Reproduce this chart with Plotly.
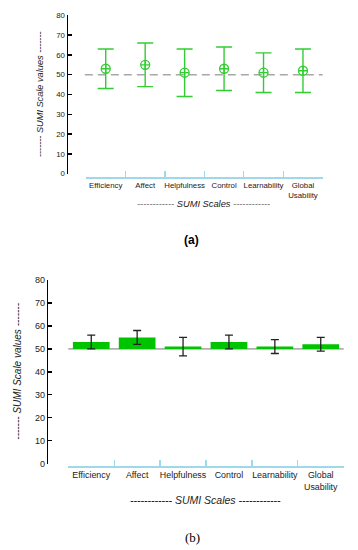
import plotly.graph_objects as go

W, H = 358, 550

categories = ["Efficiency", "Affect", "Helpfulness", "Control", "Learnability", "Global Usability"]
tick_labels = ["Efficiency", "Affect", "Helpfulness", "Control", "Learnability", "Global<br>Usability"]
means = [53, 55, 51, 53, 51, 52]
ci_a = [10, 11, 12, 11, 10, 11]      # panel (a) error bars
se_b = [3, 3, 4, 3, 3, 3]            # panel (b) error bars
reference_value = 50
y_ticks = [0, 10, 20, 30, 40, 50, 60, 70, 80]

GREEN_A = "#33cc33"
GREEN_B = "#00c400"
BLUE = "#9fd8ea"
FONT = "Liberation Sans"

def px_x(p):
    return p / W

def px_y(p):
    return 1 - p / H

fig = go.Figure()

# ---- panel (a)
fig.add_trace(go.Scatter(
    x=categories, y=means, mode="markers",
    marker=dict(symbol="circle-cross-open", size=9, color=GREEN_A, line=dict(width=1.3, color=GREEN_A)),
    error_y=dict(type="data", array=ci_a, visible=True, color=GREEN_A, thickness=1.4, width=8),
    xaxis="x", yaxis="y", showlegend=False, cliponaxis=False,
))

# ---- panel (b)
fig.add_trace(go.Bar(
    x=categories, y=[m - reference_value for m in means], base=reference_value,
    marker=dict(color=GREEN_B, line=dict(width=0)), width=0.8,
    xaxis="x2", yaxis="y2", showlegend=False,
))
fig.add_trace(go.Scatter(
    x=categories, y=means, mode="markers", marker=dict(size=1, color="rgba(0,0,0,0)"),
    error_y=dict(type="data", array=se_b, visible=True, color="#222222", thickness=1.3, width=4),
    xaxis="x2", yaxis="y2", showlegend=False, hoverinfo="skip",
))

# reference lines at 50
fig.add_shape(type="line", xref="x domain", yref="y", x0=-0.005, x1=1.0, y0=reference_value, y1=reference_value,
              line=dict(color="#a8a8a8", width=1.6, dash="8px,5px"), layer="below")
fig.add_shape(type="line", xref="x2 domain", yref="y2", x0=0, x1=1, y0=reference_value, y1=reference_value,
              line=dict(color="#b0b0b0", width=1.6), layer="below")

def yax(domain, pos, size):
    return dict(range=[0, 80], domain=domain, anchor="free", position=pos,
                tickvals=y_ticks, ticks="inside", ticklen=4, tickwidth=1.3, tickcolor="black",
                showline=True, linecolor="black", linewidth=1.6, showgrid=False, zeroline=False,
                tickfont=dict(family=FONT, size=size, color="#222"), fixedrange=True)

def xax(domain, pos, size):
    return dict(type="category", range=[-0.5, 5.5], domain=domain, anchor="free", position=pos,
                tickvals=categories, ticktext=tick_labels, tickson="boundaries", tickangle=0,
                ticks="inside", ticklen=6, tickwidth=1.3, tickcolor=BLUE,
                showline=True, linecolor=BLUE, linewidth=1.6, showgrid=False, zeroline=False,
                tickfont=dict(family=FONT, size=size, color="#222"), fixedrange=True)

fig.update_layout(
    width=W, height=H,
    margin=dict(l=0, r=0, t=0, b=0, autoexpand=False),
    paper_bgcolor="white", plot_bgcolor="white",
    template="none",
    bargap=0.2,
    xaxis=xax([px_x(86), px_x(322.7)], px_y(177.3), 7.8),
    yaxis=yax([px_y(173.7), px_y(15.3)], px_x(66.5), 7.8),
    xaxis2=xax([px_x(68.3), px_x(343.7)], px_y(466), 8.9),
    yaxis2=yax([px_y(463.7), px_y(280)], px_x(46.7), 9),
)

annotations = [
    dict(text="<i>------- SUMI Scale values -------</i>", x=px_x(40), y=px_y(94), textangle=-90,
         font=dict(family=FONT, size=9.2, color="#222")),
    dict(text="<i>------------ SUMI Scales ------------</i>", x=px_x(203.5), y=px_y(204.3),
         font=dict(family=FONT, size=9.3, color="#222")),
    dict(text="<b>(a)</b>", x=px_x(191), y=px_y(240), font=dict(family=FONT, size=12, color="black")),
    dict(text="<i>------- SUMI Scale values -------</i>", x=px_x(16.7), y=px_y(371), textangle=-90,
         font=dict(family=FONT, size=10, color="#222")),
    dict(text="<i>------------ SUMI Scales ------------</i>", x=px_x(205.5), y=px_y(500),
         font=dict(family=FONT, size=10.5, color="#222")),
    dict(text="(b)", x=px_x(192.5), y=px_y(537.7), font=dict(family="Liberation Serif", size=13, color="black")),
]
for a in annotations:
    a.update(xref="paper", yref="paper", showarrow=False, xanchor="center", yanchor="middle")
fig.update_layout(annotations=annotations)

fig.write_html("out.html", config={"displayModeBar": False, "staticPlot": True},
               post_script="document.body.style.margin='0';document.body.style.overflow='hidden';")
